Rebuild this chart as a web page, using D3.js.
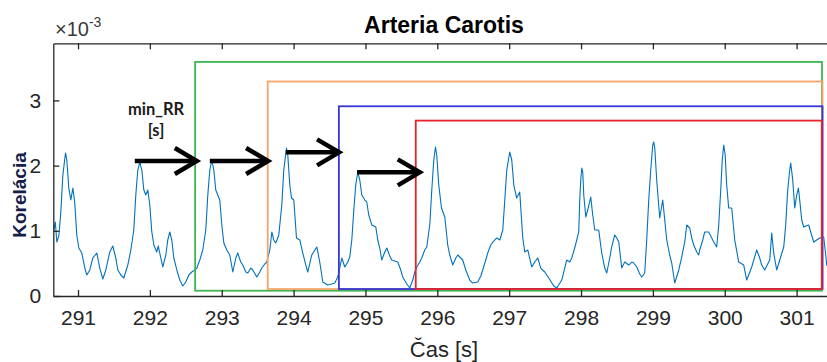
<!DOCTYPE html>
<html>
<head>
<meta charset="utf-8">
<script src="https://cdn.jsdelivr.net/npm/d3@7/dist/d3.min.js"></script>
<style>
  body { margin: 0; background: #ffffff; }
  svg { display: block; }
</style>
</head>
<body>
<svg id="chart" width="827" height="362"></svg>
<script>
// Correlation signal of the carotid artery (values in units of 1e-3)
const timeS = [
  290.663, 290.684, 290.705, 290.733, 290.761, 290.789, 290.826, 290.844, 290.872, 290.900,
  290.928, 290.955, 290.983, 291.011, 291.053, 291.095, 291.122, 291.164, 291.206, 291.262,
  291.303, 291.345, 291.387, 291.442, 291.484, 291.526, 291.554, 291.596, 291.637, 291.693,
  291.735, 291.776, 291.804, 291.832, 291.860, 291.888, 291.916, 291.943, 291.971, 291.999,
  292.027, 292.055, 292.096, 292.117, 292.152, 292.180, 292.222, 292.249, 292.277, 292.305,
  292.333, 292.375, 292.416, 292.458, 292.500, 292.542, 292.583, 292.625, 292.653, 292.695,
  292.736, 292.778, 292.806, 292.834, 292.862, 292.890, 292.917, 292.945, 292.973, 293.001,
  293.029, 293.070, 293.112, 293.154, 293.196, 293.223, 293.265, 293.293, 293.335, 293.363,
  293.404, 293.432, 293.488, 293.530, 293.557, 293.599, 293.627, 293.669, 293.697, 293.724,
  293.752, 293.794, 293.836, 293.863, 293.901, 293.919, 293.947, 293.971, 294.003, 294.040,
  294.086, 294.128, 294.170, 294.197, 294.253, 294.323, 294.364, 294.406, 294.476, 294.531,
  294.573, 294.615, 294.671, 294.712, 294.754, 294.782, 294.810, 294.838, 294.865, 294.893,
  294.921, 294.949, 294.991, 295.018, 295.046, 295.088, 295.144, 295.171, 295.199, 295.227,
  295.269, 295.297, 295.338, 295.366, 295.408, 295.450, 295.491, 295.519, 295.575, 295.617,
  295.658, 295.686, 295.714, 295.756, 295.784, 295.825, 295.853, 295.895, 295.923, 295.951,
  295.974, 295.992, 296.020, 296.058, 296.104, 296.145, 296.173, 296.215, 296.257, 296.285,
  296.326, 296.354, 296.396, 296.452, 296.493, 296.563, 296.605, 296.632, 296.674, 296.702,
  296.744, 296.772, 296.827, 296.869, 296.911, 296.939, 296.966, 297.008, 297.036, 297.064,
  297.105, 297.147, 297.189, 297.217, 297.259, 297.314, 297.356, 297.398, 297.439, 297.495,
  297.551, 297.620, 297.662, 297.732, 297.773, 297.801, 297.843, 297.871, 297.912, 297.940,
  297.968, 297.982, 297.996, 298.010, 298.024, 298.038, 298.066, 298.093, 298.135, 298.163,
  298.191, 298.246, 298.288, 298.330, 298.358, 298.399, 298.427, 298.469, 298.497, 298.525,
  298.566, 298.608, 298.664, 298.706, 298.733, 298.775, 298.817, 298.845, 298.886, 298.914,
  298.942, 298.970, 298.998, 299.012, 299.026, 299.053, 299.095, 299.137, 299.165, 299.193,
  299.234, 299.262, 299.304, 299.360, 299.401, 299.443, 299.471, 299.513, 299.540, 299.568,
  299.610, 299.638, 299.652, 299.694, 299.721, 299.777, 299.819, 299.847, 299.888, 299.916,
  299.944, 299.965, 299.986, 300.006, 300.027, 300.055, 300.097, 300.139, 300.194, 300.264,
  300.306, 300.375, 300.445, 300.487, 300.514, 300.556, 300.598, 300.626, 300.654, 300.681,
  300.723, 300.765, 300.821, 300.848, 300.876, 300.904, 300.918, 300.946, 300.974, 301.001,
  301.025, 301.043, 301.071, 301.099, 301.127, 301.168, 301.196, 301.238, 301.280, 301.322,
  301.377, 301.405, 301.419, 301.490
];
const korelacia = [
  1.012, 1.135, 0.828, 0.920, 1.288, 1.856, 2.193, 2.086, 1.656, 1.472,
  1.656, 1.426, 0.936, 0.736, 0.659, 0.429, 0.322, 0.399, 0.583, 0.659,
  0.429, 0.261, 0.399, 0.675, 0.767, 0.583, 0.399, 0.322, 0.276, 0.475,
  0.706, 1.012, 1.549, 1.932, 2.055, 1.932, 1.626, 1.549, 1.626, 1.396,
  0.982, 0.782, 0.675, 0.767, 0.583, 0.445, 0.629, 0.859, 0.982, 0.859,
  0.583, 0.399, 0.245, 0.153, 0.215, 0.322, 0.368, 0.399, 0.429, 0.552,
  0.706, 1.012, 1.549, 1.932, 2.086, 1.932, 1.626, 1.549, 1.472, 1.089,
  0.813, 0.706, 0.629, 0.368, 0.583, 0.659, 0.521, 0.475, 0.368, 0.353,
  0.429, 0.399, 0.291, 0.368, 0.429, 0.491, 0.521, 0.706, 0.982, 0.859,
  0.813, 0.936, 1.396, 1.932, 2.270, 2.163, 1.702, 1.503, 1.472, 0.890,
  0.859, 0.659, 0.475, 0.368, 0.629, 0.752, 0.521, 0.215, 0.169, 0.184,
  0.199, 0.291, 0.583, 0.445, 0.521, 0.598, 0.859, 1.319, 1.702, 1.902,
  1.779, 1.549, 1.472, 1.442, 1.242, 1.089, 1.058, 0.859, 0.736, 0.552,
  0.675, 0.736, 0.613, 0.552, 0.537, 0.521, 0.399, 0.291, 0.184, 0.123,
  0.245, 0.368, 0.445, 0.521, 0.583, 0.706, 0.752, 1.089, 1.626, 2.086,
  2.285, 2.163, 1.702, 1.350, 1.212, 0.782, 0.629, 0.475, 0.583, 0.629,
  0.583, 0.552, 0.399, 0.245, 0.199, 0.215, 0.307, 0.399, 0.552, 0.659,
  0.782, 0.828, 0.890, 0.859, 1.012, 1.472, 1.932, 2.209, 2.086, 1.702,
  1.503, 1.595, 0.890, 0.675, 0.706, 0.445, 0.521, 0.583, 0.429, 0.368,
  0.276, 0.153, 0.123, 0.245, 0.429, 0.552, 0.521, 0.583, 0.736, 0.859,
  0.982, 1.472, 1.779, 1.963, 1.902, 1.549, 1.212, 1.319, 1.518, 1.242,
  1.012, 1.012, 0.659, 0.429, 0.353, 0.583, 0.752, 0.936, 0.890, 0.828,
  0.429, 0.521, 0.475, 0.521, 0.506, 0.445, 0.337, 0.291, 0.353, 0.859,
  1.472, 1.932, 2.316, 2.362, 2.270, 1.779, 1.196, 1.472, 1.166, 0.859,
  0.629, 0.506, 0.199, 0.399, 0.598, 0.828, 1.089, 1.043, 0.890, 0.782,
  0.675, 0.629, 0.706, 0.859, 0.982, 0.982, 0.890, 0.828, 0.752, 1.089,
  1.626, 2.086, 2.316, 2.163, 1.702, 1.350, 1.350, 0.859, 0.521, 0.475,
  0.245, 0.445, 0.706, 0.583, 0.475, 0.399, 0.491, 0.552, 0.966, 0.659,
  0.399, 0.552, 0.752, 1.089, 1.626, 1.932, 2.040, 1.779, 1.350, 1.549,
  1.656, 1.472, 1.166, 1.058, 1.074, 1.089, 0.982, 0.828, 0.859, 0.890,
  0.905, 0.629, 0.475, 0.400
];

// Axis ticks
const xTicks = [291, 292, 293, 294, 295, 296, 297, 298, 299, 300, 301];
const yTicks = [0, 1, 2, 3];

// Search windows (start time, end time, top, bottom)
const windowStart  = [292.63, 293.64, 294.63, 295.70];
const windowEnd    = [301.353, 301.36, 301.36, 301.35];
const windowTop    = [3.59, 3.29, 2.91, 2.69];
const windowBottom = [0.081, 0.107, 0.107, 0.107];
const windowColors = ["#3fb54f", "#f7a46c", "#3535d8", "#e8232b"];

// min_RR arrows (from peak to window start)
const arrowFrom  = [291.79, 292.834, 293.891, 294.883];
const arrowTo    = [292.653, 293.645, 294.633, 295.756];
const arrowLevel = [2.07, 2.07, 2.203, 1.897];

const svg = d3.select("#chart");
const plot = { left: 53.3, right: 834.7, top: 43.3, bottom: 296 };

const x = d3.scaleLinear().domain([290.656, 301.53]).range([plot.left, plot.right]);
const y = d3.scaleLinear().domain([0, 3.876]).range([plot.bottom, plot.top]);

const axisColor = "#262626";
const font = "'Liberation Sans', Arial, Helvetica, sans-serif";

// Signal
const pts = timeS.map((t, i) => [t, korelacia[i]]);
svg.append("path")
  .datum(pts)
  .attr("fill", "none")
  .attr("stroke", "#0072BD")
  .attr("stroke-width", 1.1)
  .attr("stroke-linejoin", "round")
  .attr("d", d3.line().x(d => x(d[0])).y(d => y(d[1])));

// Windows
windowStart.forEach((s, i) => {
  svg.append("rect")
    .attr("x", x(s))
    .attr("y", y(windowTop[i]))
    .attr("width", x(windowEnd[i]) - x(s))
    .attr("height", y(windowBottom[i]) - y(windowTop[i]))
    .attr("fill", "none")
    .attr("stroke", windowColors[i])
    .attr("stroke-width", 1.8);
});

// Arrows
const headLen = 22, headHalf = 13;
arrowFrom.forEach((f, i) => {
  const x0 = x(f), x1 = x(arrowTo[i]), yy = y(arrowLevel[i]);
  const g = svg.append("g").attr("stroke", "#000").attr("stroke-width", 4.5).attr("fill", "none");
  g.append("line").attr("x1", x0).attr("y1", yy).attr("x2", x1 - 1).attr("y2", yy);
  g.append("path")
    .attr("stroke-linejoin", "miter")
    .attr("d", `M${x1 - headLen},${yy - headHalf} L${x1},${yy} L${x1 - headLen},${yy + headHalf}`);
});

// Axes (box style with inward ticks)
const xAxisB = d3.axisBottom(x).tickValues(xTicks).tickSizeInner(-6).tickSizeOuter(0)
  .tickPadding(14).tickFormat(d3.format("d"));
const xAxisT = d3.axisTop(x).tickValues(xTicks).tickSizeInner(-6).tickSizeOuter(0).tickFormat("");
const yAxisL = d3.axisLeft(y).tickValues(yTicks).tickSizeInner(-6).tickSizeOuter(0)
  .tickPadding(12).tickFormat(d3.format("d"));

function styleAxis(g) {
  g.select(".domain").attr("stroke", axisColor).attr("stroke-width", 1.3);
  g.selectAll(".tick line").attr("stroke", axisColor).attr("stroke-width", 1.3);
  g.selectAll(".tick text").attr("fill", axisColor).attr("font-family", font).attr("font-size", 21);
}

svg.append("g").attr("transform", `translate(0,${plot.bottom})`).call(xAxisB).call(styleAxis);
svg.append("g").attr("transform", `translate(0,${plot.top})`).call(xAxisT).call(styleAxis);
svg.append("g").attr("transform", `translate(${plot.left},0)`).call(yAxisL).call(styleAxis);

// Exponent label
const ex = svg.append("text")
  .attr("x", 55).attr("y", 36)
  .attr("font-family", font).attr("font-size", 20).attr("fill", "#3a3a3a");
ex.append("tspan").text("×10");
ex.append("tspan").attr("dy", -9).attr("font-size", 14).text("-3");

// Title
svg.append("text")
  .attr("x", 444).attr("y", 33)
  .attr("text-anchor", "middle")
  .attr("font-family", font).attr("font-weight", "bold").attr("font-size", 23)
  .attr("fill", "#000").text("Arteria Carotis");

// Axis titles
svg.append("text")
  .attr("x", 444).attr("y", 357)
  .attr("text-anchor", "middle")
  .attr("font-family", font).attr("font-size", 22)
  .attr("fill", axisColor).text("Čas [s]");

svg.append("text")
  .attr("transform", "translate(26,195) rotate(-90)")
  .attr("text-anchor", "middle")
  .attr("font-family", font).attr("font-weight", "bold").attr("font-size", 19)
  .attr("fill", "#15204a").text("Korelácia");

// Annotation
const ann = svg.append("g")
  .attr("font-family", "Lato, 'Open Sans', sans-serif").attr("font-weight", "bold")
  .attr("font-size", 16.5).attr("fill", "#1a1a1a").attr("text-anchor", "middle");
ann.append("text").attr("x", 156).attr("y", 115).text("min_RR");
ann.append("text").attr("x", 156).attr("y", 136).text("[s]");
</script>
</body>
</html>
